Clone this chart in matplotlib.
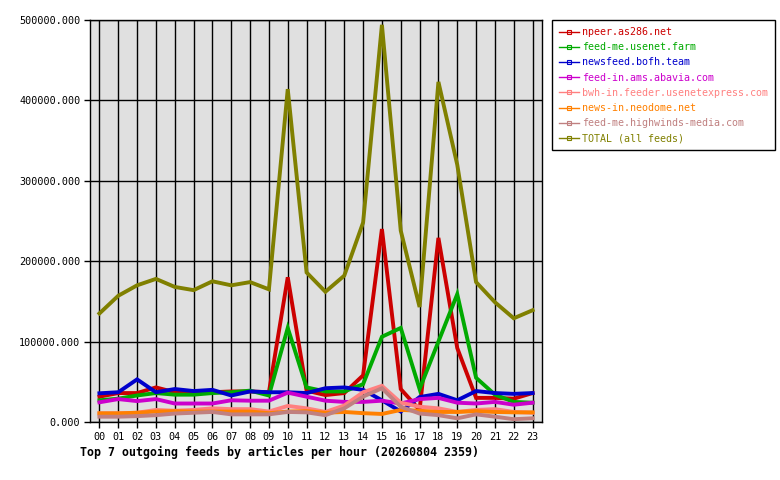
import matplotlib
matplotlib.use("Agg")
import matplotlib.pyplot as plt
from matplotlib.lines import Line2D

hours = ["%02d" % h for h in range(24)]

feeds = [
    "npeer.as286.net",
    "feed-me.usenet.farm",
    "newsfeed.bofh.team",
    "feed-in.ams.abavia.com",
    "bwh-in.feeder.usenetexpress.com",
    "news-in.neodome.net",
    "feed-me.highwinds-media.com",
    "TOTAL (all feeds)",
]

colors = {
    "npeer.as286.net": "#cc0000",
    "feed-me.usenet.farm": "#00aa00",
    "newsfeed.bofh.team": "#0000cc",
    "feed-in.ams.abavia.com": "#cc00cc",
    "bwh-in.feeder.usenetexpress.com": "#ff8080",
    "news-in.neodome.net": "#ff8000",
    "feed-me.highwinds-media.com": "#c08080",
    "TOTAL (all feeds)": "#808000",
}

npeer = [31500, 36000, 36000, 43000, 37000, 36000, 37000, 38000, 38000, 37000,
         180000, 39000, 33500, 36000, 58000, 240000, 41000, 15000, 229000, 92000,
         30000, 30000, 29000, 36000]
usenet_farm = [27000, 29000, 33000, 36000, 34000, 34000, 36000, 37000, 39000, 33000,
               117000, 43000, 38000, 38000, 47000, 106000, 117000, 41000, 100000, 159000,
               55000, 34000, 25000, 24000]
bofh = [35700, 37000, 53000, 37000, 41000, 38500, 40000, 33000, 38000, 37000,
        37000, 36000, 42000, 43000, 40000, 27000, 13000, 31000, 35000, 27000,
        38500, 36000, 35000, 36000]
abavia = [24500, 28500, 26000, 28500, 23000, 23000, 23000, 27000, 26500, 26500,
          36500, 31500, 26500, 25000, 25000, 26500, 23000, 28500, 30000, 24000,
          23000, 25000, 21500, 24000]
usenetexpress = [10800, 10800, 11500, 15000, 14000, 15000, 17000, 16000, 16000, 13000,
                 20000, 17000, 12500, 20500, 37000, 45000, 24000, 19000, 17000, 12500,
                 15000, 16000, 12500, 11500]
neodome = [10800, 10800, 11500, 13000, 13500, 13000, 13000, 13000, 13000, 11000,
           13000, 13500, 11500, 12500, 11000, 10000, 15000, 14000, 12500, 12500,
           13500, 12500, 12000, 12000]
highwinds = [6600, 6600, 7300, 8500, 10500, 11500, 12500, 9500, 9500, 9500,
             12500, 12000, 8500, 17000, 31500, 42000, 19000, 10500, 8500, 4600,
             9500, 6600, 3500, 4600]
total = [135000, 157000, 170000, 178000, 168000, 164000, 175000, 170000, 174000, 165000,
         414000, 186000, 162000, 182000, 248000, 494000, 238000, 143000, 423000, 320000,
         174000, 149000, 129000, 139000]

series = [npeer, usenet_farm, bofh, abavia, usenetexpress, neodome, highwinds, total]

plt.rcParams["font.family"] = "DejaVu Sans Mono"

fig = plt.figure(figsize=(7.8, 4.8), dpi=100)
ax = fig.add_axes([90 / 780, (480 - 422) / 480, (542 - 90) / 780, (422 - 20) / 480])
ax.set_facecolor("#e0e0e0")

x = list(range(len(hours)))
for name, values in zip(feeds, series):
    ax.plot(x, values, color=colors[name], linewidth=2.8, solid_joinstyle="miter")

ax.set_xlim(-0.5, 23.5)
ax.set_ylim(0, 500000)
ax.set_xticks(x)
ax.set_xticklabels(hours)
yticks = [0, 100000, 200000, 300000, 400000, 500000]
ax.set_yticks(yticks)
ax.set_yticklabels(["%.3f" % v for v in yticks])
ax.tick_params(labelsize=7.3, length=4, width=1, color="black", pad=3)
ax.grid(True, color="black", linewidth=1)
ax.set_axisbelow(True)
for s in ax.spines.values():
    s.set_color("black")
    s.set_linewidth(1)

handles = [
    Line2D([0], [0], color=colors[n], linewidth=1, marker="s", markersize=3,
           markerfacecolor="none", markeredgewidth=0.8)
    for n in feeds
]
leg = fig.legend(
    handles, feeds,
    loc="upper left",
    bbox_to_anchor=(552 / 780, 1 - 20 / 480),
    fontsize=7.2,
    labelcolor="linecolor",
    frameon=True,
    fancybox=False,
    edgecolor="black",
    framealpha=1,
    handlelength=2.0,
    handletextpad=0.3,
    labelspacing=0.52,
    borderpad=0.7,
    borderaxespad=0,
)
leg.get_frame().set_linewidth(1)

fig.text(80 / 780, 1 - 452 / 480,
         "Top 7 outgoing feeds by articles per hour (20260804 2359)",
         fontsize=8.4, fontweight="bold", ha="left", va="center")

fig.savefig("out.png", dpi=100)
